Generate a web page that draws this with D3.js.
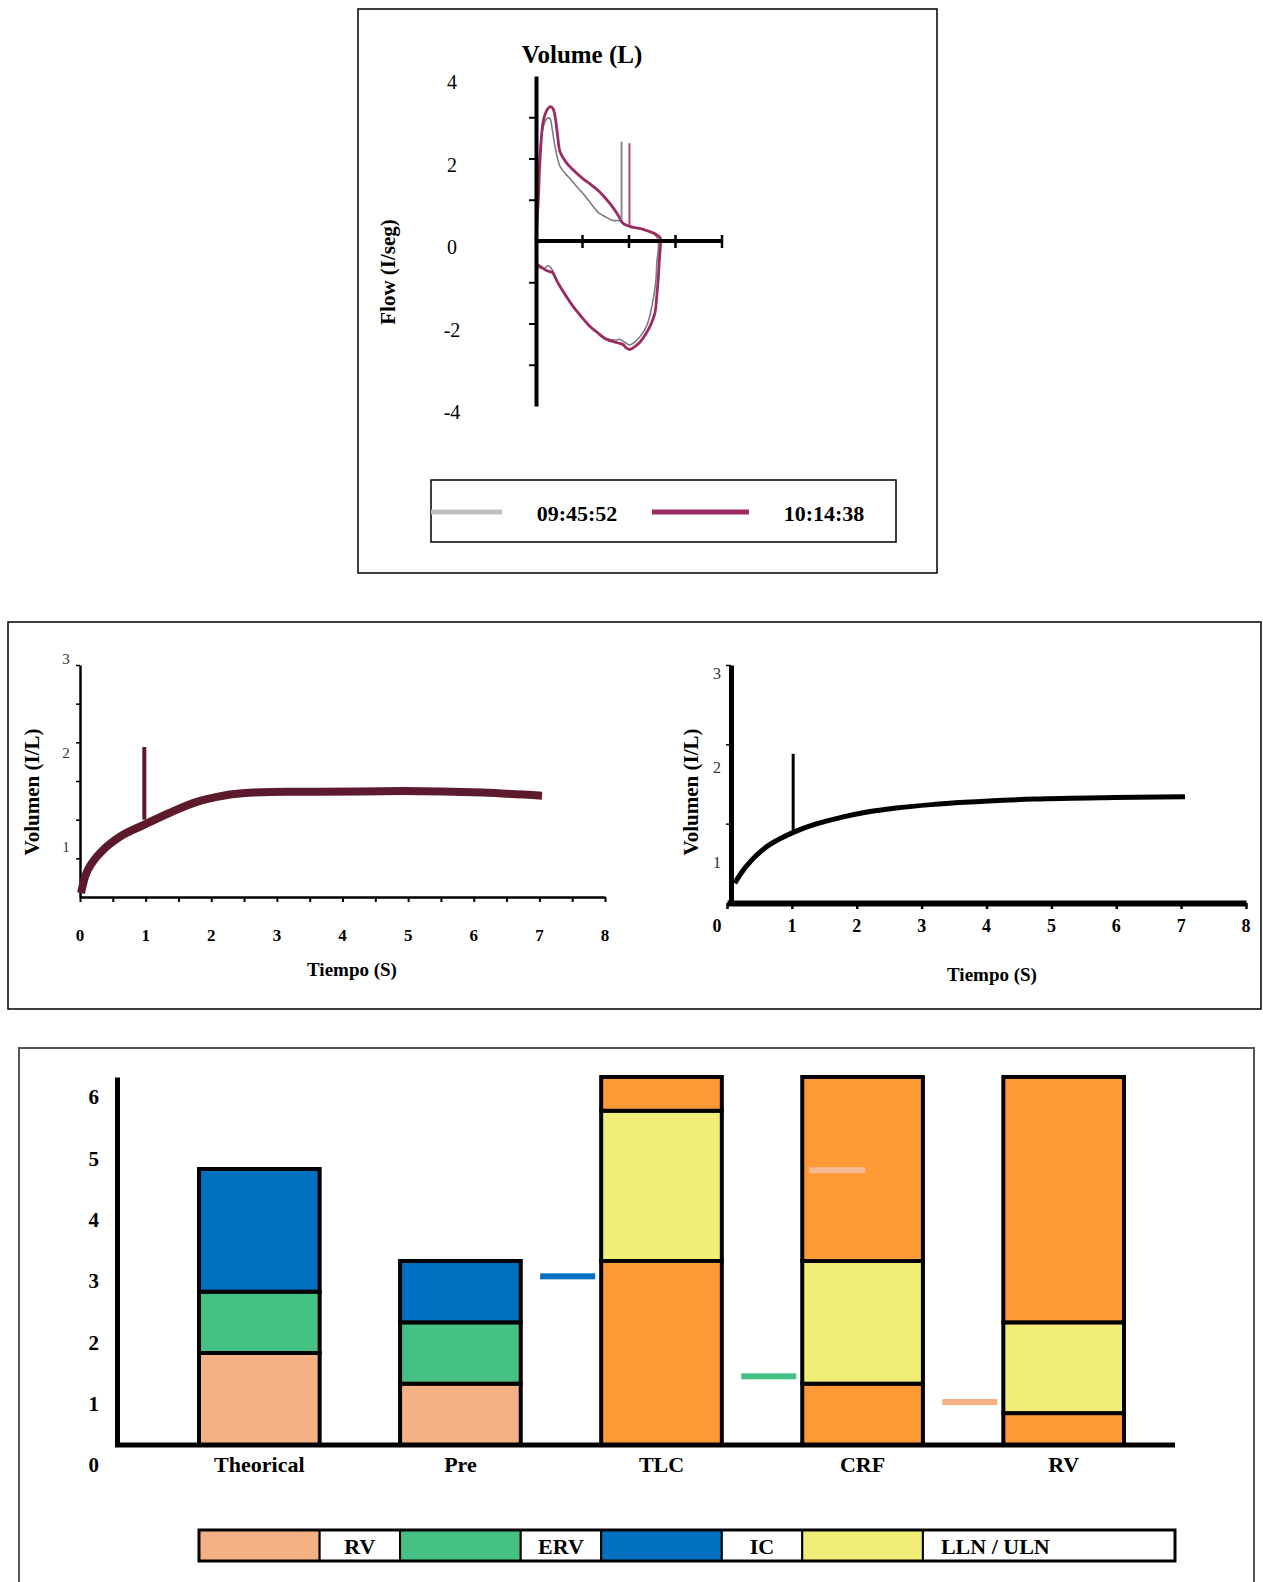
<!DOCTYPE html>
<html>
<head>
<meta charset="utf-8">
<script src="https://cdn.jsdelivr.net/npm/d3@7"></script>
<style>
body { margin: 0; background: #fff; }
text { font-family: "Liberation Serif", "DejaVu Serif", serif; }
</style>
</head>
<body>
<svg id="fig" width="1263" height="1582"></svg>
<script>
// ---------- flow / volume loop (top)
var fvGrey = [[0,0],[0.04,1.2],[0.1,2.4],[0.18,2.85],[0.25,2.98],[0.3,2.97],[0.35,2.7],[0.4,2.35],[0.52,1.8],[0.7,1.55],[0.875,1.32],[1.05,1.1],[1.22,0.85],[1.35,0.68],[1.5,0.58],[1.65,0.5],[1.8,0.49],[1.87,0.43],[2.0,0.36],[2.2,0.3],[2.38,0.25],[2.55,0.16],[2.62,0.05],
  [2.63,-0.2],[2.6,-0.5],[2.58,-0.93],[2.53,-1.35],[2.48,-1.65],[2.4,-2.0],[2.3,-2.22],[2.15,-2.42],[2.01,-2.52],[1.9,-2.45],[1.8,-2.38],[1.73,-2.4],[1.5,-2.36],[1.3,-2.2],[1.15,-2.05],[0.95,-1.8],[0.78,-1.55],[0.6,-1.28],[0.46,-1.0],[0.36,-0.72],[0.3,-0.62],[0.25,-0.6],[0.18,-0.67],[0.1,-0.66],[0,-0.6]];
var fvMagenta = [[0,0],[0.05,1.0],[0.09,2.04],[0.16,2.93],[0.25,3.2],[0.31,3.26],[0.37,3.2],[0.42,2.95],[0.46,2.6],[0.52,2.15],[0.64,1.92],[0.8,1.72],[1.0,1.52],[1.2,1.35],[1.36,1.2],[1.5,1.03],[1.65,0.82],[1.78,0.6],[1.87,0.43],[2.0,0.36],[2.09,0.33],[2.25,0.3],[2.38,0.25],[2.55,0.18],[2.67,0.08],
  [2.67,-0.2],[2.65,-0.5],[2.63,-0.9],[2.6,-1.3],[2.56,-1.73],[2.48,-2.0],[2.38,-2.22],[2.23,-2.46],[2.1,-2.58],[2.01,-2.63],[1.93,-2.58],[1.87,-2.51],[1.73,-2.46],[1.51,-2.38],[1.3,-2.2],[1.15,-2.06],[0.95,-1.8],[0.78,-1.56],[0.6,-1.25],[0.46,-0.99],[0.35,-0.76],[0.28,-0.74],[0.2,-0.7],[0.1,-0.62],[0,-0.55]];
var fvGreyMark = [1.84, 0.51, 2.41];     // volume, flow from, flow to
var fvMagentaMark = [2.01, 0.39, 2.37];
var fvFlowLabels = [4, 2, 0, -2, -4];
var fvFlowTicks = [-3, -2, -1, 1, 2, 3];
var fvVolTicks = [1, 2, 3, 4];
var fvSeries = ["09:45:52", "10:14:38"];

// ---------- volume / time curves (middle)
var timeLabels = [0, 1, 2, 3, 4, 5, 6, 7, 8];
var volLabels = [1, 2, 3];
var vtLeft = [[0.015,0.05],[0.076,0.26],[0.2,0.46],[0.355,0.61],[0.61,0.78],[0.965,0.93],[1.37,1.09],[1.78,1.23],[2.18,1.31],[2.64,1.35],[3.15,1.36],[3.66,1.36],[4.92,1.37],[6.13,1.35],[7.04,1.31]];
var vtLeftSpike = [0.98, 1.0, 1.94];
var vtRight = [[0.12,0.25],[0.23,0.39],[0.38,0.54],[0.58,0.69],[0.84,0.82],[1.05,0.9],[1.35,0.99],[1.76,1.08],[2.12,1.14],[2.64,1.2],[3.15,1.24],[3.66,1.27],[4.73,1.31],[5.97,1.33],[7.06,1.34]];
var vtRightSpike = [1.02, 0.88, 1.88];

// ---------- lung volumes (bottom)
var categories = ["Theorical", "Pre", "TLC", "CRF", "RV"];
var stackCats = ["Theorical", "Pre"];
var rvVals = [1.5, 1.0];
var ervVals = [1.0, 1.0];
var icVals = [2.0, 1.0];
var rangeCats = ["TLC", "CRF", "RV"];
var llnVals = [3.0, 1.0, 0.52];
var ulnVals = [5.45, 3.0, 2.0];
var rangeTop = 6;
var measuredVals = [2.75, 1.12, 0.7];
var innerMarkVals = [null, 4.48, null];
var barTicks = [0, 1, 2, 3, 4, 5, 6];
var legendLabels = ["RV", "ERV", "IC", "LLN / ULN"];

var salmon = "#f4b183", green = "#45c283", blue = "#0070c0", yellow = "#f0ee76", orange = "#fd9a35";
var svg = d3.select("#fig");

// ================= top panel
svg.append("rect").attr("x", 358).attr("y", 9).attr("width", 579).attr("height", 564)
  .attr("fill", "none").attr("stroke", "#000").attr("stroke-width", 1.5);

var fx = d3.scaleLinear().domain([0, 4]).range([536, 722]);
var fy = d3.scaleLinear().domain([-4, 4]).range([406, 76]);
var fvLine = d3.line().x(function(d) { return fx(d[0]); }).y(function(d) { return fy(d[1]); })
  .curve(d3.curveCatmullRom.alpha(0.5));

var g1 = svg.append("g");
g1.append("path").datum(fvGrey).attr("d", fvLine)
  .attr("fill", "none").attr("stroke", "#7d7d7d").attr("stroke-width", 1.6);
g1.append("path").datum(fvMagenta).attr("d", fvLine)
  .attr("fill", "none").attr("stroke", "#9c2b63").attr("stroke-width", 2.8);
g1.append("line").attr("x1", fx(fvGreyMark[0])).attr("x2", fx(fvGreyMark[0]))
  .attr("y1", fy(fvGreyMark[1])).attr("y2", fy(fvGreyMark[2])).attr("stroke", "#8a8a8a").attr("stroke-width", 2);
g1.append("line").attr("x1", fx(fvMagentaMark[0])).attr("x2", fx(fvMagentaMark[0]))
  .attr("y1", fy(fvMagentaMark[1])).attr("y2", fy(fvMagentaMark[2])).attr("stroke", "#a8457a").attr("stroke-width", 2);

var fyAxis = g1.append("g").attr("transform", "translate(" + fx(0) + ",0)")
  .call(d3.axisLeft(fy).tickValues(fvFlowTicks).tickSize(7).tickSizeOuter(0).tickFormat(""));
fyAxis.select(".domain").attr("stroke-width", 4);
fyAxis.selectAll(".tick line").attr("stroke-width", 2);

g1.append("line").attr("x1", fx(0)).attr("x2", fx(4)).attr("y1", fy(0)).attr("y2", fy(0))
  .attr("stroke", "#000").attr("stroke-width", 4);
g1.selectAll("line.xt").data(fvVolTicks).enter().append("line").attr("class", "xt")
  .attr("x1", function(d) { return fx(d); }).attr("x2", function(d) { return fx(d); })
  .attr("y1", fy(0) - 6).attr("y2", fy(0) + 7).attr("stroke", "#000").attr("stroke-width", 2.5);

g1.selectAll("text.fl").data(fvFlowLabels).enter().append("text").attr("class", "fl")
  .attr("x", 452).attr("y", function(d) { return fy(d) + 6; }).attr("dy", "0.35em")
  .attr("text-anchor", "middle").attr("font-size", 20).text(function(d) { return d; });

g1.append("text").attr("x", 582).attr("y", 54).attr("dy", "0.35em").attr("text-anchor", "middle")
  .attr("font-size", 25).attr("font-weight", "bold").text("Volume (L)");
g1.append("text").attr("transform", "translate(388,272) rotate(-90)").attr("dy", "0.35em")
  .attr("text-anchor", "middle").attr("font-size", 21).attr("font-weight", "bold").text("Flow (I/seg)");

// legend
g1.append("rect").attr("x", 431).attr("y", 480).attr("width", 465).attr("height", 62)
  .attr("fill", "none").attr("stroke", "#000").attr("stroke-width", 1.5);
g1.append("line").attr("x1", 431).attr("x2", 502).attr("y1", 512).attr("y2", 512).attr("stroke", "#c0c0c0").attr("stroke-width", 5);
g1.append("line").attr("x1", 652).attr("x2", 749).attr("y1", 512).attr("y2", 512).attr("stroke", "#9c2b63").attr("stroke-width", 5);
g1.selectAll("text.lg").data(fvSeries).enter().append("text").attr("class", "lg")
  .attr("x", function(d, i) { return i ? 824 : 577; }).attr("y", 513).attr("dy", "0.35em")
  .attr("text-anchor", "middle").attr("font-size", 22).attr("font-weight", "bold").text(function(d) { return d; });

// ================= middle panel
svg.append("rect").attr("x", 8).attr("y", 622).attr("width", 1253).attr("height", 387)
  .attr("fill", "none").attr("stroke", "#000").attr("stroke-width", 1.5);

// left
var lx = d3.scaleLinear().domain([0, 8]).range([80, 605]);
var ly = d3.scaleLinear().domain([0, 3]).range([897, 665]);
var lyLab = d3.scaleLinear().domain([1, 3]).range([847, 659]);
var g2 = svg.append("g");
var lxAxis = g2.append("g").attr("transform", "translate(0," + ly(0) + ")")
  .call(d3.axisBottom(lx).tickValues(d3.range(0, 8.01, 0.5)).tickSize(5).tickSizeOuter(0).tickFormat(""));
lxAxis.select(".domain").attr("stroke-width", 2.5);
lxAxis.selectAll(".tick line").attr("stroke-width", 2);
var lyAxis = g2.append("g").attr("transform", "translate(" + lx(0) + ",0)")
  .call(d3.axisLeft(ly).tickValues([0.5, 1, 1.5, 2, 2.5, 3]).tickSize(4).tickSizeOuter(0).tickFormat(""));
lyAxis.select(".domain").attr("stroke-width", 2.5);
lyAxis.selectAll(".tick line").attr("stroke-width", 1.5);

var vtLineL = d3.line().x(function(d) { return lx(d[0]); }).y(function(d) { return ly(d[1]); }).curve(d3.curveMonotoneX);
g2.append("path").datum(vtLeft).attr("d", vtLineL).attr("fill", "none")
  .attr("stroke", "#5c1a2c").attr("stroke-width", 8);
g2.append("line").attr("x1", lx(vtLeftSpike[0])).attr("x2", lx(vtLeftSpike[0]))
  .attr("y1", ly(vtLeftSpike[1])).attr("y2", ly(vtLeftSpike[2])).attr("stroke", "#5c1a2c").attr("stroke-width", 4);

g2.selectAll("text.xl").data(timeLabels).enter().append("text").attr("class", "xl")
  .attr("x", function(d) { return lx(d); }).attr("y", 935).attr("dy", "0.35em").attr("text-anchor", "middle")
  .attr("font-size", 17).attr("font-weight", "bold").text(function(d) { return d; });
g2.selectAll("text.yl").data(volLabels).enter().append("text").attr("class", "yl")
  .attr("x", lx(0) - 14).attr("y", function(d) { return lyLab(d); }).attr("dy", "0.35em").attr("text-anchor", "middle")
  .attr("font-size", 15).attr("fill", "#333").text(function(d) { return d; });
g2.append("text").attr("x", 352).attr("y", 969).attr("dy", "0.35em").attr("text-anchor", "middle")
  .attr("font-size", 19).attr("font-weight", "bold").text("Tiempo (S)");
g2.append("text").attr("transform", "translate(32,792) rotate(-90)").attr("dy", "0.35em")
  .attr("text-anchor", "middle").attr("font-size", 21).attr("font-weight", "bold").text("Volumen (I/L)");

// right
var rx = d3.scaleLinear().domain([0, 8]).range([727, 1246]);
var ry = d3.scaleLinear().domain([0, 3]).range([903, 665]);
var ryLab = d3.scaleLinear().domain([1, 3]).range([862, 673]);
var g3 = svg.append("g");
var rxAxis = g3.append("g").attr("transform", "translate(0," + ry(0) + ")")
  .call(d3.axisBottom(rx).tickValues(timeLabels).tickSize(6).tickSizeOuter(0).tickFormat(""));
rxAxis.select(".domain").attr("stroke-width", 6);
rxAxis.selectAll(".tick line").attr("stroke-width", 2.5);
var ryAxis = g3.append("g").attr("transform", "translate(" + (rx(0) + 4) + ",0)")
  .call(d3.axisLeft(ry).tickValues([1, 2, 3]).tickSize(5).tickSizeOuter(0).tickFormat(""));
ryAxis.select(".domain").attr("stroke-width", 5);
ryAxis.selectAll(".tick line").attr("stroke-width", 1.5);

var vtLineR = d3.line().x(function(d) { return rx(d[0]); }).y(function(d) { return ry(d[1]); }).curve(d3.curveMonotoneX);
g3.append("path").datum(vtRight).attr("d", vtLineR).attr("fill", "none")
  .attr("stroke", "#000").attr("stroke-width", 5);
g3.append("line").attr("x1", rx(vtRightSpike[0])).attr("x2", rx(vtRightSpike[0]))
  .attr("y1", ry(vtRightSpike[1])).attr("y2", ry(vtRightSpike[2])).attr("stroke", "#000").attr("stroke-width", 3);

g3.selectAll("text.xl").data(timeLabels).enter().append("text").attr("class", "xl")
  .attr("x", function(d) { return d === 0 ? rx(d) - 10 : rx(d); }).attr("y", 926).attr("dy", "0.35em").attr("text-anchor", "middle")
  .attr("font-size", 18).attr("font-weight", "bold").text(function(d) { return d; });
g3.selectAll("text.yl").data(volLabels).enter().append("text").attr("class", "yl")
  .attr("x", rx(0) - 10).attr("y", function(d) { return ryLab(d); }).attr("dy", "0.35em").attr("text-anchor", "middle")
  .attr("font-size", 16).attr("fill", "#333").text(function(d) { return d; });
g3.append("text").attr("x", 992).attr("y", 974).attr("dy", "0.35em").attr("text-anchor", "middle")
  .attr("font-size", 19).attr("font-weight", "bold").text("Tiempo (S)");
g3.append("text").attr("transform", "translate(691,792) rotate(-90)").attr("dy", "0.35em")
  .attr("text-anchor", "middle").attr("font-size", 21).attr("font-weight", "bold").text("Volumen (I/L)");

// ================= bottom panel
svg.append("rect").attr("x", 19).attr("y", 1048).attr("width", 1235).attr("height", 600)
  .attr("fill", "none").attr("stroke", "#555").attr("stroke-width", 2);

var bx = d3.scaleBand().domain(categories).range([199, 1124]).paddingInner(0.4).paddingOuter(0);
var by = d3.scaleLinear().domain([0, 6]).range([1445, 1077]);
var bw = bx.bandwidth();
var g4 = svg.append("g");

// stacked bars
var stackData = [];
stackCats.forEach(function(c, i) {
  var a = rvVals[i], b = a + ervVals[i], t = b + icVals[i];
  stackData.push({cat: c, y0: 0, y1: a, color: salmon});
  stackData.push({cat: c, y0: a, y1: b, color: green});
  stackData.push({cat: c, y0: b, y1: t, color: blue});
});
rangeCats.forEach(function(c, i) {
  stackData.push({cat: c, y0: 0, y1: llnVals[i], color: orange});
  stackData.push({cat: c, y0: llnVals[i], y1: ulnVals[i], color: yellow});
  stackData.push({cat: c, y0: ulnVals[i], y1: rangeTop, color: orange});
});
g4.selectAll("rect.seg").data(stackData).enter().append("rect").attr("class", "seg")
  .attr("x", function(d) { return bx(d.cat); }).attr("width", bw)
  .attr("y", function(d) { return by(d.y1); }).attr("height", function(d) { return by(d.y0) - by(d.y1); })
  .attr("fill", function(d) { return d.color; }).attr("stroke", "#000").attr("stroke-width", 4);

// markers
var markColors = [blue, green, salmon];
g4.selectAll("rect.mk").data(measuredVals).enter().append("rect").attr("class", "mk")
  .attr("x", function(d, i) { return bx(rangeCats[i]) - 61; }).attr("width", 55)
  .attr("y", function(d) { return by(d) - 3; }).attr("height", 6)
  .attr("fill", function(d, i) { return markColors[i]; });
g4.selectAll("rect.imk").data(innerMarkVals.map(function(v, i) { return {v: v, cat: rangeCats[i]}; })
    .filter(function(d) { return d.v !== null; }))
  .enter().append("rect").attr("class", "imk")
  .attr("x", function(d) { return bx(d.cat) + 7; }).attr("width", 56)
  .attr("y", function(d) { return by(d.v) - 3; }).attr("height", 6).attr("fill", "#f6b997");

// axes
var byAxis = g4.append("g").attr("transform", "translate(117,0)")
  .call(d3.axisLeft(by).tickValues(barTicks).tickSize(0).tickPadding(18).tickFormat(d3.format("d")));
byAxis.select(".domain").attr("stroke-width", 5);
byAxis.selectAll("text").attr("y", 20).attr("font-size", 21).attr("font-weight", "bold")
  .attr("font-family", "Liberation Serif, serif").attr("fill", "#000");
g4.append("line").attr("x1", 115).attr("x2", 1175).attr("y1", by(0)).attr("y2", by(0))
  .attr("stroke", "#000").attr("stroke-width", 5);
var bxAxis = g4.append("g").attr("transform", "translate(0," + by(0) + ")")
  .call(d3.axisBottom(bx).tickSize(0).tickPadding(11));
bxAxis.select(".domain").remove();
bxAxis.selectAll("text").attr("font-size", 22).attr("font-weight", "bold")
  .attr("font-family", "Liberation Serif, serif").attr("fill", "#000");

// legend strip aligned with bars
var legY = 1530, legH = 31;
var legCells = [
  {x0: bx("Theorical"), x1: bx("Theorical") + bw, fill: salmon},
  {x0: bx("Theorical") + bw, x1: bx("Pre"), fill: "#fff", label: legendLabels[0]},
  {x0: bx("Pre"), x1: bx("Pre") + bw, fill: green},
  {x0: bx("Pre") + bw, x1: bx("TLC"), fill: "#fff", label: legendLabels[1]},
  {x0: bx("TLC"), x1: bx("TLC") + bw, fill: blue},
  {x0: bx("TLC") + bw, x1: bx("CRF"), fill: "#fff", label: legendLabels[2]},
  {x0: bx("CRF"), x1: bx("CRF") + bw, fill: yellow},
  {x0: bx("CRF") + bw, x1: 1175, fill: "#fff", label: legendLabels[3], left: true}
];
g4.selectAll("rect.lc").data(legCells).enter().append("rect").attr("class", "lc")
  .attr("x", function(d) { return d.x0; }).attr("width", function(d) { return d.x1 - d.x0; })
  .attr("y", legY).attr("height", legH).attr("fill", function(d) { return d.fill; })
  .attr("stroke", "#000").attr("stroke-width", 2);
g4.append("rect").attr("x", legCells[0].x0).attr("y", legY)
  .attr("width", 1175 - legCells[0].x0).attr("height", legH)
  .attr("fill", "none").attr("stroke", "#000").attr("stroke-width", 3);
g4.selectAll("text.lt").data(legCells.filter(function(d) { return d.label; })).enter().append("text").attr("class", "lt")
  .attr("x", function(d) { return d.left ? d.x0 + 18 : (d.x0 + d.x1) / 2; })
  .attr("y", legY + legH / 2 + 1).attr("dy", "0.35em")
  .attr("text-anchor", function(d) { return d.left ? "start" : "middle"; })
  .attr("font-size", 22).attr("font-weight", "bold").text(function(d) { return d.label; });
</script>
</body>
</html>
